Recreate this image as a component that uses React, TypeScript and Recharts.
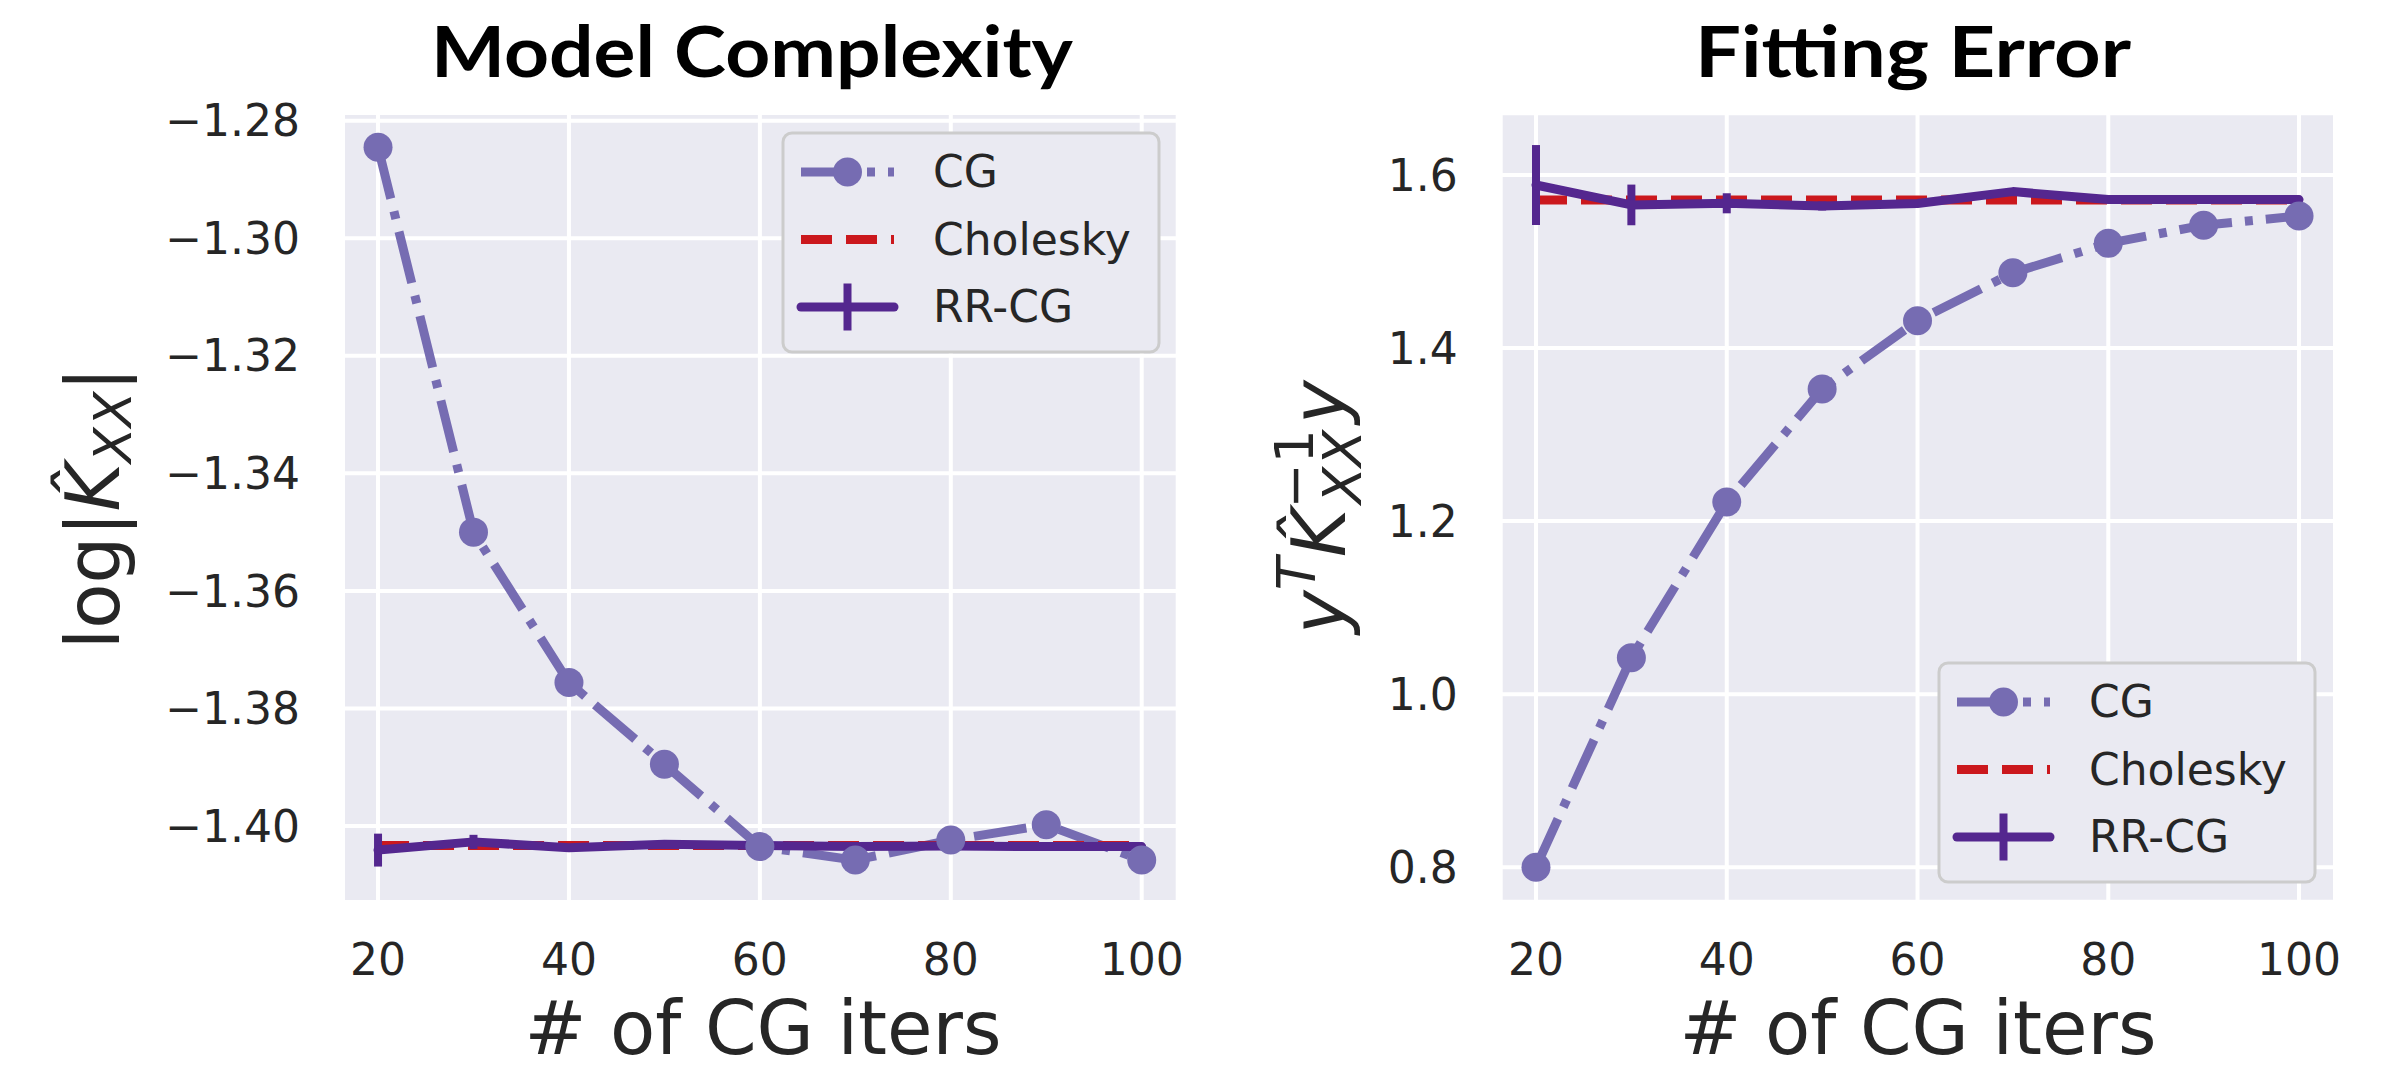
import React from "react";
import { CartesianGrid, ErrorBar, Line, LineChart, XAxis, YAxis } from "recharts";

const ITERS = [20, 30, 40, 50, 60, 70, 80, 90, 100];
const X_TICKS = [20, 40, 60, 80, 100];

// left panel: log|K_XX|
const LOGDET_CG = [-1.2845, -1.35, -1.3756, -1.3895, -1.4035, -1.4058, -1.4024, -1.3998, -1.4058];
const LOGDET_CHOLESKY = -1.4033;
const LOGDET_RRCG = [-1.4041, -1.4027, -1.4037, -1.4031, -1.4033, -1.4035, -1.4034, -1.4035, -1.4035];
const LOGDET_RRCG_ERR = [0.0028, 0.0012, 0.0005, 0.0003, 0.0002, 0.0002, 0.0001, 0.0001, 0.0001];
const LOGDET_TICKS = [-1.4, -1.38, -1.36, -1.34, -1.32, -1.3, -1.28];

// right panel: y^T K^-1 y
const FIT_CG = [0.8, 1.042, 1.222, 1.3526, 1.4316, 1.487, 1.521, 1.542, 1.5526];
const FIT_CHOLESKY = 1.571;
const FIT_RRCG = [1.5884, 1.5654, 1.5673, 1.5642, 1.567, 1.5808, 1.5716, 1.5716, 1.5716];
const FIT_RRCG_ERR = [0.0462, 0.0235, 0.0116, 0.0052, 0.002, 0.0035, 0.001, 0.0005, 0.0005];
const FIT_TICKS = [0.8, 1.0, 1.2, 1.4, 1.6];

const CG_COLOR = "#766cb2";
const CHOL_COLOR = "#cb181d";
const RR_COLOR = "#54278f";
const BG = "#eaeaf2";
const TEXT = "#262626";
const LW = 9;
const CG_DASH = "53 13 8 13";
const CHOL_DASH = "31 14";
const FONT = "DejaVu Sans";

const minus = (s: string) => s.replace("-", "\u2212");

type PanelProps = {
  left: number;
  width: number;
  margin: { top: number; right: number; bottom: number; left: number };
  yWidth: number;
  xDomain: [number, number];
  yDomain: [number, number];
  yTicks: number[];
  digits: number;
  cg: number[];
  chol: number;
  rr: number[];
  err: number[];
};

function Panel(p: PanelProps) {
  const data = ITERS.map((it, i) => ({ iter: it, cg: p.cg[i], chol: p.chol, rr: p.rr[i], err: p.err[i] }));
  const tick = { fontSize: 44, fill: TEXT, fontFamily: FONT };
  return (
    <div style={{ position: "absolute", left: p.left, top: 0 }}>
      <LineChart width={p.width} height={1071} data={data} margin={p.margin}>
        <CartesianGrid fill={BG} fillOpacity={1} stroke="#ffffff" strokeWidth={4} />
        <XAxis
          dataKey="iter"
          type="number"
          domain={p.xDomain}
          ticks={X_TICKS}
          interval={0}
          allowDataOverflow
          axisLine={false}
          tickLine={false}
          tickSize={0}
          tickMargin={42}
          height={100}
          tick={tick}
        />
        <YAxis
          type="number"
          domain={p.yDomain}
          ticks={p.yTicks}
          interval={0}
          allowDataOverflow
          axisLine={false}
          tickLine={false}
          tickSize={0}
          tickMargin={43}
          width={p.yWidth}
          tick={tick}
          tickFormatter={(v: number) => minus(v.toFixed(p.digits))}
        />
        <Line
          dataKey="cg"
          type="linear"
          stroke={CG_COLOR}
          strokeWidth={LW}
          strokeDasharray={CG_DASH}
          dot={{ r: 14.5, fill: CG_COLOR, stroke: "none", strokeWidth: 0 }}
          activeDot={false}
          isAnimationActive={false}
        />
        <Line
          dataKey="chol"
          type="linear"
          stroke={CHOL_COLOR}
          strokeWidth={LW}
          strokeDasharray={CHOL_DASH}
          dot={false}
          activeDot={false}
          isAnimationActive={false}
        />
        <Line
          dataKey="rr"
          type="linear"
          stroke={RR_COLOR}
          strokeWidth={LW}
          strokeLinecap="round"
          strokeLinejoin="round"
          dot={false}
          activeDot={false}
          isAnimationActive={false}
        >
          <ErrorBar dataKey="err" direction="y" width={0} stroke={RR_COLOR} strokeWidth={8} isAnimationActive={false} />
        </Line>
      </LineChart>
    </div>
  );
}

function LegendBox({ x, y }: { x: number; y: number }) {
  const hx = x + 18;
  const hw = 93;
  const tx = x + 150;
  const rows = [y + 39, y + 106.5, y + 174];
  const txt = { fontSize: 44, fill: TEXT, fontFamily: FONT };
  return (
    <g>
      <rect x={x} y={y} width={376} height={219} rx={9} fill={BG} stroke="#cccccc" strokeWidth={3} />
      <line x1={hx} x2={hx + hw} y1={rows[0]} y2={rows[0]} stroke={CG_COLOR} strokeWidth={LW} strokeDasharray={CG_DASH} />
      <circle cx={hx + hw / 2} cy={rows[0]} r={14.5} fill={CG_COLOR} />
      <text x={tx} y={rows[0] + 15} {...txt}>CG</text>
      <line x1={hx} x2={hx + hw} y1={rows[1]} y2={rows[1]} stroke={CHOL_COLOR} strokeWidth={LW} strokeDasharray={CHOL_DASH} />
      <text x={tx} y={rows[1] + 15} {...txt}>Cholesky</text>
      <line x1={hx} x2={hx + hw} y1={rows[2]} y2={rows[2]} stroke={RR_COLOR} strokeWidth={LW} strokeLinecap="round" />
      <line x1={hx + hw / 2} x2={hx + hw / 2} y1={rows[2] - 23.5} y2={rows[2] + 23.5} stroke={RR_COLOR} strokeWidth={8} />
      <text x={tx} y={rows[2] + 15} {...txt}>RR-CG</text>
    </g>
  );
}

function Overlay() {
  const title = { fontSize: 70, fontWeight: 700, fontFamily: "Lato", fill: "#000", textAnchor: "middle" as const };
  const label = { fontSize: 74, fontFamily: FONT, fill: TEXT };
  return (
    <svg width={2398} height={1071} style={{ position: "absolute", left: 0, top: 0, pointerEvents: "none" }}>
      <text x={752} y={77} {...title} textLength={642} lengthAdjust="spacingAndGlyphs">Model Complexity</text>
      <text x={1913} y={77} {...title} textLength={436} lengthAdjust="spacingAndGlyphs">Fitting Error</text>
      <text x={763} y={1054} {...label} textAnchor="middle"># of CG iters</text>
      <text x={1918} y={1054} {...label} textAnchor="middle"># of CG iters</text>
      <g transform="translate(119,508) rotate(-90)">
        <text x={0} y={0} {...label} textAnchor="middle">
          <tspan>log|</tspan>
          <tspan fontStyle="italic">{"K\u0302"}</tspan>
          <tspan fontStyle="italic" fontSize={52} dy={12}>XX</tspan>
          <tspan dy={-12}>|</tspan>
        </text>
      </g>
      <g transform="translate(1345,506) rotate(-90)">
        <text x={-128} y={0} {...label}>
          <tspan fontStyle="italic">y</tspan>
          <tspan fontStyle="italic" fontSize={54} dy={-30}>T</tspan>
          <tspan fontStyle="italic" dy={30}>{"K\u0302"}</tspan>
          <tspan fontSize={54} dy={-32}>{"\u22121"}</tspan>
          <tspan fontStyle="italic" fontSize={54} dx={-75} dy={48}>XX</tspan>
          <tspan fontStyle="italic" dx={6} dy={-16}>y</tspan>
        </text>
      </g>
      <LegendBox x={783} y={133} />
      <LegendBox x={1939} y={663} />
    </svg>
  );
}

export default function App() {
  return (
    <div style={{ position: "absolute", left: 0, top: 0, width: 2398, height: 1071, background: "#fff" }}>
      <Panel
        left={0}
        width={1199}
        margin={{ top: 113, right: 21.3, bottom: 69, left: 43 }}
        yWidth={300}
        xDomain={[16.33, 103.77]}
        yDomain={[-1.41293, -1.27869]}
        yTicks={LOGDET_TICKS}
        digits={2}
        cg={LOGDET_CG}
        chol={LOGDET_CHOLESKY}
        rr={LOGDET_RRCG}
        err={LOGDET_RRCG_ERR}
      />
      <Panel
        left={1199}
        width={1199}
        margin={{ top: 113.3, right: 63, bottom: 69.3, left: 51.7 }}
        yWidth={250}
        xDomain={[16.3, 103.77]}
        yDomain={[0.7601, 1.6713]}
        yTicks={FIT_TICKS}
        digits={1}
        cg={FIT_CG}
        chol={FIT_CHOLESKY}
        rr={FIT_RRCG}
        err={FIT_RRCG_ERR}
      />
      <Overlay />
    </div>
  );
}
